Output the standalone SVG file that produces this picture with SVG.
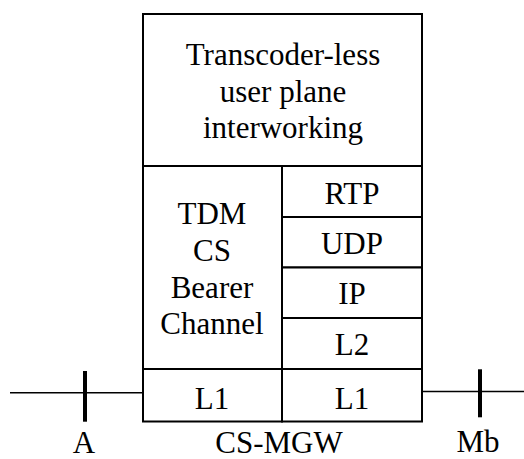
<svg xmlns="http://www.w3.org/2000/svg" width="524" height="459" viewBox="0 0 524 459">
<rect width="524" height="459" fill="#fff"/>
<g id="connectors" stroke="#000" fill="none">
<line stroke-width="1.5" x1="10" y1="392.7" x2="143" y2="392.7"/>
<line stroke-width="4" x1="85" y1="371" x2="85" y2="421.7"/>
<line stroke-width="1.5" x1="422" y1="391.5" x2="524" y2="391.5"/>
<line stroke-width="4" x1="480" y1="369.3" x2="480" y2="417.3"/>
</g>
<g id="nodes" fill="#fff" stroke="#000" stroke-width="2">
<g id="interworking">
<rect x="143" y="14" width="279" height="152"/>
<text fill="#000" stroke="none" text-anchor="middle" font-family="Liberation Serif" font-size="31" x="283" y="65">Transcoder-less</text>
<text fill="#000" stroke="none" text-anchor="middle" font-family="Liberation Serif" font-size="31" x="283" y="101.7">user plane</text>
<text fill="#000" stroke="none" text-anchor="middle" font-family="Liberation Serif" font-size="31" x="283" y="138.3">interworking</text>
</g>
<g id="tdm">
<rect x="143" y="166" width="139" height="203"/>
<text fill="#000" stroke="none" text-anchor="middle" font-family="Liberation Serif" font-size="31" x="212" y="224">TDM</text>
<text fill="#000" stroke="none" text-anchor="middle" font-family="Liberation Serif" font-size="31" x="212" y="261">CS</text>
<text fill="#000" stroke="none" text-anchor="middle" font-family="Liberation Serif" font-size="31" x="212" y="297.7">Bearer</text>
<text fill="#000" stroke="none" text-anchor="middle" font-family="Liberation Serif" font-size="31" x="212" y="334.3">Channel</text>
</g>
<g id="rtp">
<rect x="282" y="166" width="140" height="51"/>
<text fill="#000" stroke="none" text-anchor="middle" font-family="Liberation Serif" font-size="31" x="352" y="204">RTP</text>
</g>
<g id="udp">
<rect x="282" y="217" width="140" height="50.5"/>
<text fill="#000" stroke="none" text-anchor="middle" font-family="Liberation Serif" font-size="31" x="352" y="254.3">UDP</text>
</g>
<g id="ip">
<rect x="282" y="267.5" width="140" height="50.5"/>
<text fill="#000" stroke="none" text-anchor="middle" font-family="Liberation Serif" font-size="31" x="352" y="304.3">IP</text>
</g>
<g id="l2">
<rect x="282" y="318" width="140" height="51"/>
<text fill="#000" stroke="none" text-anchor="middle" font-family="Liberation Serif" font-size="31" x="352" y="355">L2</text>
</g>
<g id="l1a">
<rect x="143" y="369" width="139" height="52.5"/>
<text fill="#000" stroke="none" text-anchor="middle" font-family="Liberation Serif" font-size="31" x="212" y="409">L1</text>
</g>
<g id="l1b">
<rect x="282" y="369" width="140" height="52.5"/>
<text fill="#000" stroke="none" text-anchor="middle" font-family="Liberation Serif" font-size="31" x="352" y="409">L1</text>
</g>
</g>
<g id="labels" fill="#000">
<text text-anchor="middle" font-family="Liberation Serif" font-size="31" x="84" y="453">A</text>
<text text-anchor="middle" font-family="Liberation Serif" font-size="31" x="279" y="453">CS-MGW</text>
<text text-anchor="middle" font-family="Liberation Serif" font-size="31" x="478" y="452">Mb</text>
</g>
</svg>
